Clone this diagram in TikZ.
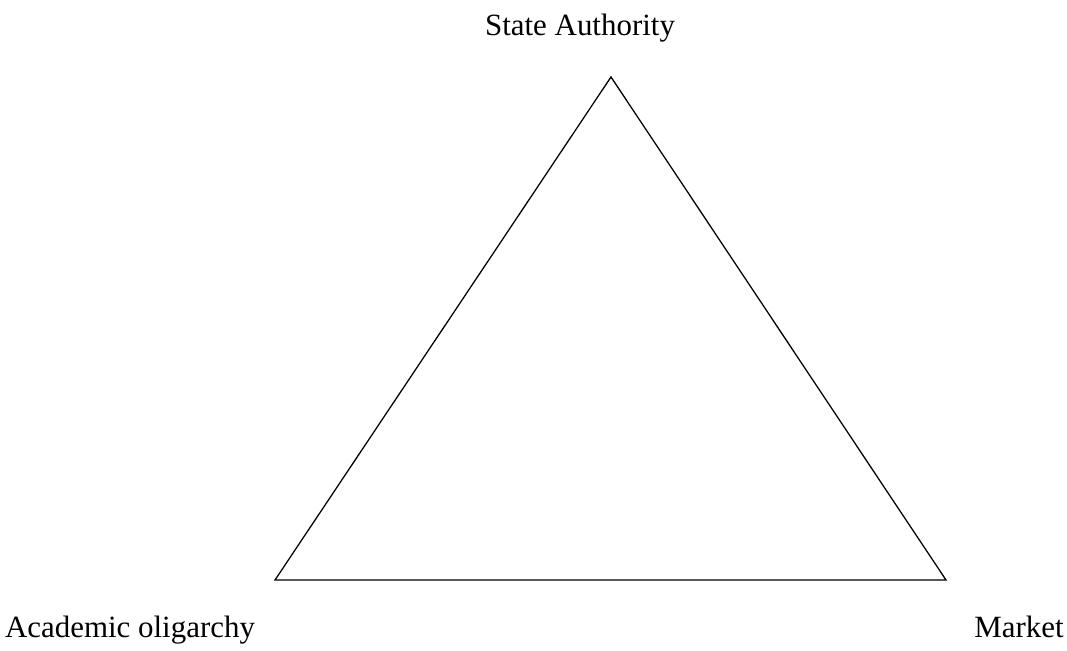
\documentclass[tikz,border=0pt]{standalone}
\usepackage{fontspec}
\setmainfont{Liberation Serif}
\usetikzlibrary{positioning}

\begin{document}
\begin{tikzpicture}[x=0.025cm,y=-0.025cm,
    label text/.style={font=\fontsize{22}{26}\selectfont, inner sep=0pt, anchor=base}]
    \useasboundingbox (0,0) rectangle (1067,651);
    % corners of the triangle
    \coordinate (state) at (611,77);
    \coordinate (academic) at (275,580);
    \coordinate (market) at (946,580);
    \draw[line width=0.9pt] (state) -- (market) -- (academic) -- cycle;

    \node[label text] (statelbl) at (580,35) {State Authority};
    \node[label text] (academiclbl) at (130,637) {Academic oligarchy};
    \node[label text] (marketlbl) at (1019,637) {Market};
\end{tikzpicture}
\end{document}
